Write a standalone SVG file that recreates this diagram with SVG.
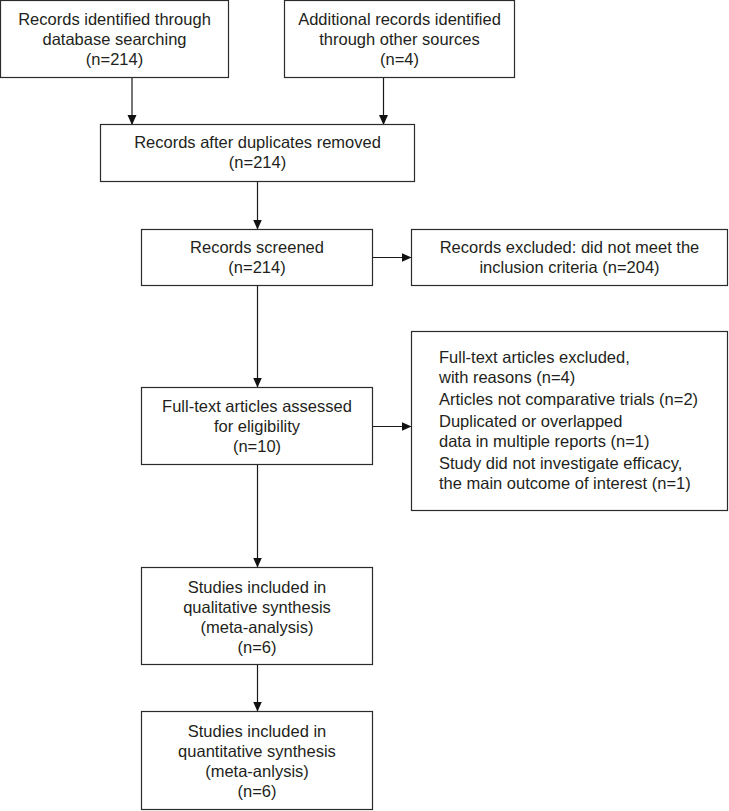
<svg xmlns="http://www.w3.org/2000/svg" width="729" height="811" viewBox="0 0 729 811">
<defs>
<style>
.box{fill:#fff;stroke:#2b2b2b;stroke-width:1.2}
.t{font-family:"Liberation Sans",Arial,sans-serif;font-size:16.5px;fill:#231f20;text-anchor:middle}
.l{font-family:"Liberation Sans",Arial,sans-serif;font-size:16.5px;fill:#231f20;text-anchor:start}
.c{fill:none;stroke:#1a1a1a;stroke-width:1.2;marker-end:url(#ah)}
</style>
<marker id="ah" markerUnits="userSpaceOnUse" markerWidth="10" markerHeight="10" viewBox="0 0 10 10" refX="10" refY="5" orient="auto">
<path d="M0,0.5 L10,5 L0,9.5 z" fill="#111"/>
</marker>
</defs>
<rect width="729" height="811" fill="#fff"/>
<g id="connectors">
<path class="c" d="M132,78 V125"/>
<path class="c" d="M383.5,78 V125"/>
<path class="c" d="M257.5,181 V229.5"/>
<path class="c" d="M372.5,257.5 H411.5"/>
<path class="c" d="M257.5,285.5 V387.5"/>
<path class="c" d="M372.5,426.5 H411.5"/>
<path class="c" d="M257.5,464.5 V567.5"/>
<path class="c" d="M257.5,664.5 V711.5"/>
</g>
<g id="n1">
<rect class="box" x="0.5" y="0.5" width="228" height="77"/>
<text class="t" x="114.5" y="25">Records identified through</text>
<text class="t" x="114.5" y="45">database searching</text>
<text class="t" x="114.5" y="65">(n=214)</text>
</g>
<g id="n2">
<rect class="box" x="284.5" y="0.5" width="230" height="77"/>
<text class="t" x="399.5" y="25">Additional records identified</text>
<text class="t" x="399.5" y="45">through other sources</text>
<text class="t" x="399.5" y="65">(n=4)</text>
</g>
<g id="n3">
<rect class="box" x="100.5" y="124.5" width="314" height="57"/>
<text class="t" x="257.5" y="148">Records after duplicates removed</text>
<text class="t" x="257.5" y="168">(n=214)</text>
</g>
<g id="n4">
<rect class="box" x="141.5" y="229.5" width="231" height="56"/>
<text class="t" x="257" y="253">Records screened</text>
<text class="t" x="257" y="273">(n=214)</text>
</g>
<g id="n5">
<rect class="box" x="411.5" y="229.5" width="316" height="56"/>
<text class="t" x="569.5" y="253">Records excluded: did not meet the</text>
<text class="t" x="569.5" y="273">inclusion criteria (n=204)</text>
</g>
<g id="n6">
<rect class="box" x="141.5" y="387.5" width="231" height="77"/>
<text class="t" x="257" y="412">Full-text articles assessed</text>
<text class="t" x="257" y="432">for eligibility</text>
<text class="t" x="257" y="452">(n=10)</text>
</g>
<g id="n7">
<rect class="box" x="411.5" y="331.5" width="316" height="179"/>
<text class="l" x="439" y="363">Full-text articles excluded,</text>
<text class="l" x="439" y="383">with reasons (n=4)</text>
<text class="l" x="439" y="405">Articles not comparative trials (n=2)</text>
<text class="l" x="439" y="427">Duplicated or overlapped</text>
<text class="l" x="439" y="447">data in multiple reports (n=1)</text>
<text class="l" x="439" y="469">Study did not investigate efficacy,</text>
<text class="l" x="439" y="489">the main outcome of interest (n=1)</text>
</g>
<g id="n8">
<rect class="box" x="141.5" y="567.5" width="231" height="97"/>
<text class="t" x="257" y="593">Studies included in</text>
<text class="t" x="257" y="613">qualitative synthesis</text>
<text class="t" x="257" y="633">(meta-analysis)</text>
<text class="t" x="257" y="653">(n=6)</text>
</g>
<g id="n9">
<rect class="box" x="141.5" y="711.5" width="231" height="98"/>
<text class="t" x="257" y="737">Studies included in</text>
<text class="t" x="257" y="757">quantitative synthesis</text>
<text class="t" x="257" y="777">(meta-anlysis)</text>
<text class="t" x="257" y="797">(n=6)</text>
</g>
</svg>
